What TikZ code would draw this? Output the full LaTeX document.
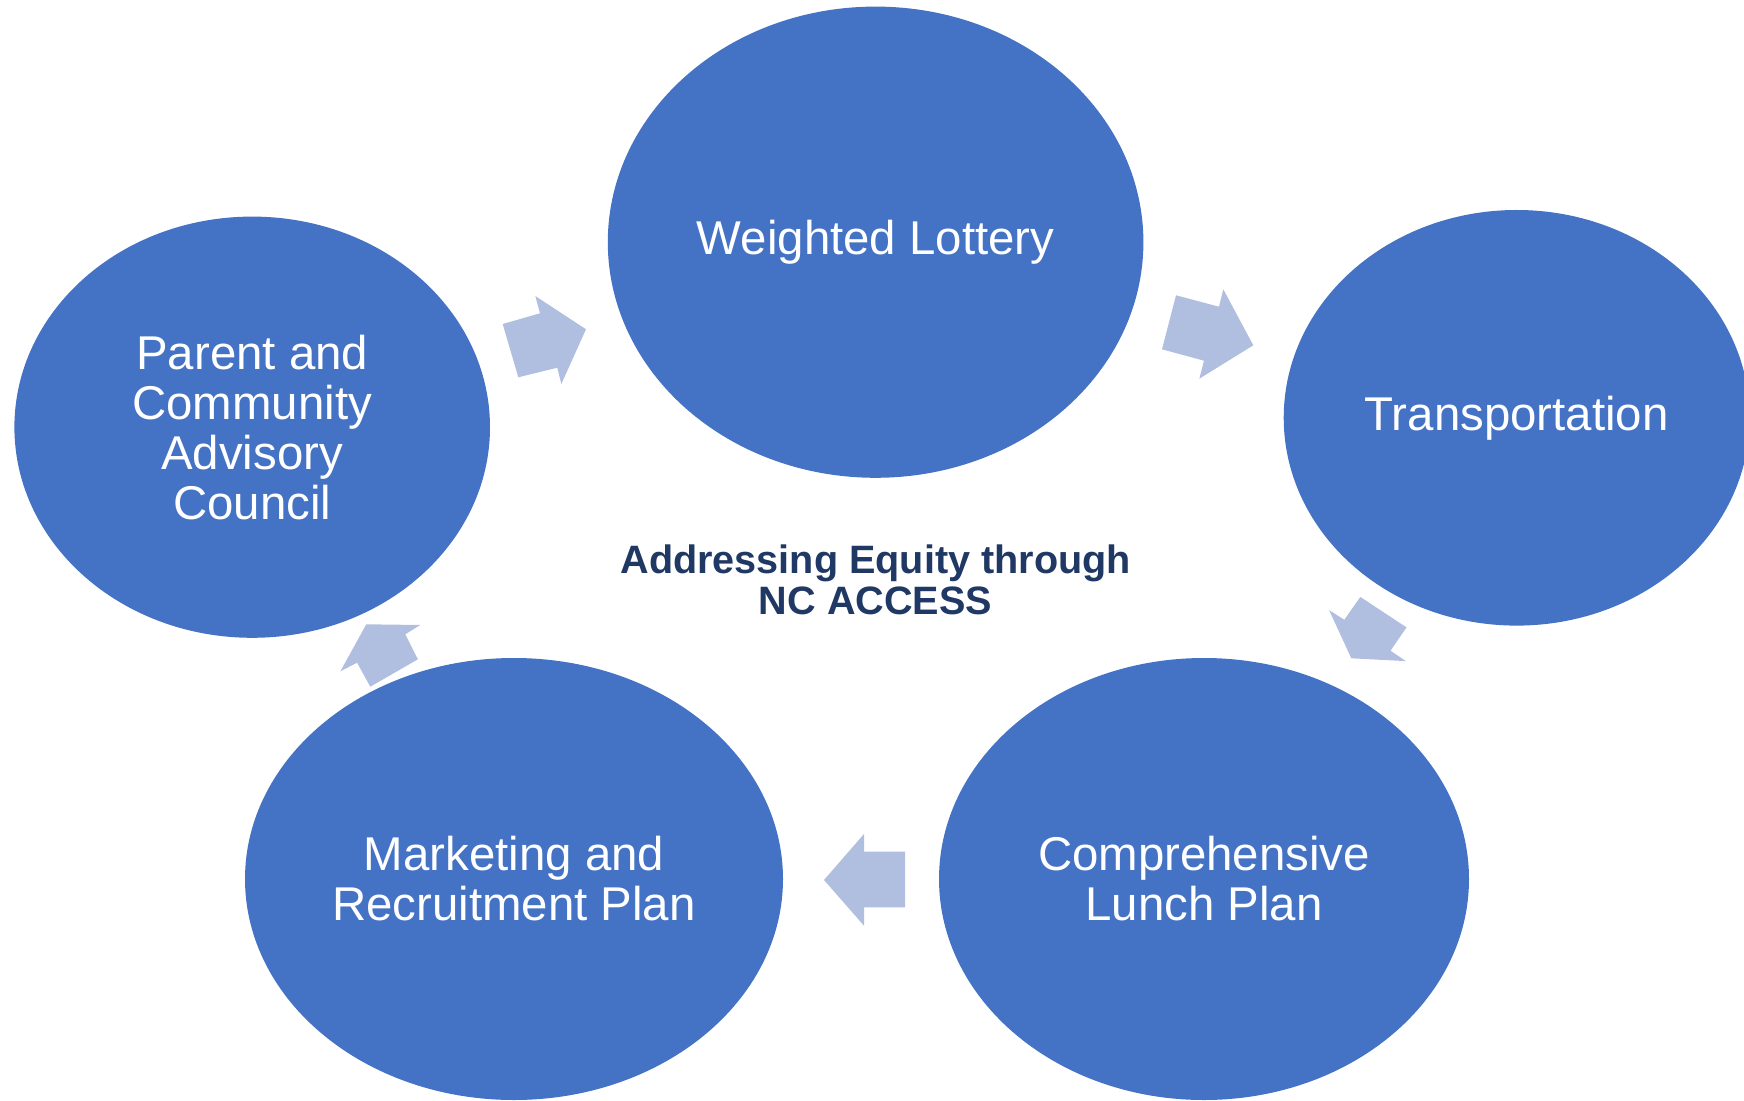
\documentclass[tikz,border=0pt]{standalone}
\usepackage{fontspec}
\setmainfont{Liberation Sans}
\usetikzlibrary{shapes.geometric}
\definecolor{ellblue}{HTML}{4472C4}
\definecolor{arrblue}{RGB}{176,190,223}
\definecolor{navy}{HTML}{1F3864}
\tikzset{
  bubble/.style={ellipse, fill=ellblue, draw=none, inner sep=0pt, text=white, align=center,
    font=\fontsize{23.7pt}{25pt}\selectfont},
  blockarrow/.style={fill=arrblue, draw=none},
  centertext/.style={text=navy, align=center, font=\fontsize{19.8pt}{20.6pt}\selectfont\bfseries}
}
\begin{document}
\begin{tikzpicture}[x=0.5pt,y=-0.5pt]
\useasboundingbox (0,0) rectangle (1744,1101);
\clip (0,0) rectangle (1744,1101);
% bubbles
\node[bubble, minimum width=267.8pt, minimum height=235.6pt] (wl) at (875.6,242.2) {Weighted Lottery};
\node[bubble, minimum width=233pt, minimum height=207.8pt] (tr) at (1516.7,417.8) {Transportation};
\node[bubble, minimum width=265pt, minimum height=221pt] (cl) at (1204,879) {Comprehensive\\Lunch Plan};
\node[bubble, minimum width=269pt, minimum height=221pt] (mr) at (514,879) {Marketing and\\Recruitment Plan};
\node[bubble, minimum width=237.8pt, minimum height=210.6pt] (pc) at (252.2,427.2) {Parent and\\Community\\Advisory\\Council};
% centre text
\node[centertext] (ct) at (875.6,580) {Addressing Equity through\\NC ACCESS};
% block arrows
\fill[blockarrow] (518.3,377.3) -- (502.7,324) -- (540,313.3) -- (535.3,296) -- (586,329.3) -- (561.3,384) -- (557.3,367.7) -- cycle;
\fill[blockarrow] (1162,349.3) -- (1176,295.3) -- (1219,306.7) -- (1223.3,289.3) -- (1253.3,345.3) -- (1199.3,378.7) -- (1204,360.7) -- cycle;
\fill[blockarrow] (1406.5,627.4) -- (1360.3,596.9) -- (1344.3,619.8) -- (1329.1,610.1) -- (1351.3,658.3) -- (1405.8,661.1) -- (1390.5,650.7) -- cycle;
\fill[blockarrow] (905,851.7) -- (864,851.7) -- (864,834) -- (824,880) -- (864,925.7) -- (864,907.3) -- (905,907.3) -- cycle;
\fill[blockarrow] (417.9,659.3) -- (405.3,634.3) -- (420.2,625) -- (366.3,624.3) -- (340.4,671.3) -- (357.1,662.7) -- (370.3,686.7) -- cycle;
\end{tikzpicture}
\end{document}
